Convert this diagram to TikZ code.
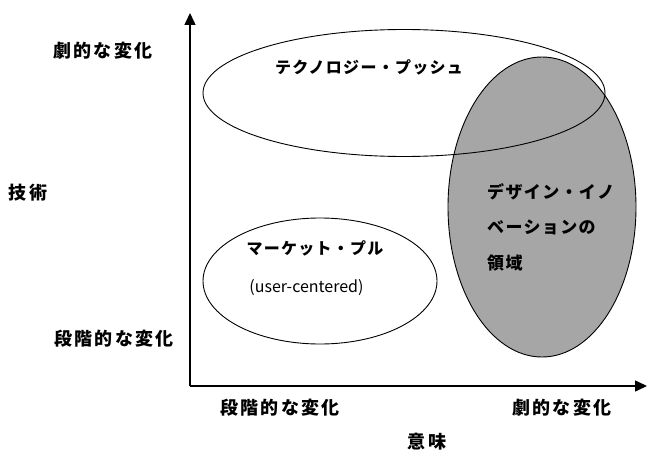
\documentclass[tikz,border=0pt]{standalone}
\usepackage{fontspec}
\usetikzlibrary{shapes.geometric,arrows.meta}
\newfontfamily\jp{Noto Sans CJK JP}[LetterSpace=12]
\newfontfamily\jpin{Noto Sans CJK JP}[LetterSpace=8]
\newfontfamily\jplat{Noto Sans CJK JP}
\definecolor{hatch}{RGB}{166,166,166}
\begin{document}
\begin{tikzpicture}[x=1pt,y=-1pt,
  axislabel/.style={inner sep=0pt,font=\jp\bfseries\fontsize{18}{20}\selectfont},
  innerlabel/.style={inner sep=0pt,font=\jpin\bfseries\fontsize{16}{18}\selectfont},
  region/.style={ellipse,draw=black,line width=0.9pt,inner sep=0pt},
  axis/.style={line width=1.5pt,-{Triangle[width=11pt,length=12pt]}}]
\useasboundingbox (0,0) rectangle (647,452);
% regions
\node[region,fill=hatch,minimum width=188pt,minimum height=300pt] (design) at (542,207) {};
\node[region,minimum width=402pt,minimum height=127pt] (push) at (404,93) {};
\node[region,fill=white,minimum width=234pt,minimum height=126pt] (pull) at (320,281) {};
% axes
\coordinate (O) at (190,386);
\coordinate (ytop) at (190,13);
\coordinate (xend) at (647,386);
\draw[axis] (O) -- (ytop);
\draw[axis] (O) -- (xend);
% axis labels
\node[axislabel] (ytoplab) at (103,50.5) {劇的な変化};
\node[axislabel] (ytitle) at (28,192.5) {技術};
\node[axislabel] (ybotlab) at (114,338.5) {段階的な変化};
\node[axislabel] (xleftlab) at (280,408) {段階的な変化};
\node[axislabel] (xrightlab) at (562,408) {劇的な変化};
\node[axislabel] (xtitle) at (427,442) {意味};
% inner labels
\node[innerlabel] (pushlab) at (369,67.5) {テクノロジー・プッシュ};
\node[innerlabel] (pulllab) at (315,248) {マーケット・プル};
\node[inner sep=0pt,font=\jplat\fontsize{16}{18}\selectfont] (pullsub) at (306.5,288) {(user-centered)};
\node[inner sep=0pt,anchor=west,align=left,font=\jpin\bfseries\fontsize{17}{35.5}\selectfont] (designlab) at (487,227) {デザイン・イノ\\ベーションの\\領域};
\end{tikzpicture}
\end{document}
